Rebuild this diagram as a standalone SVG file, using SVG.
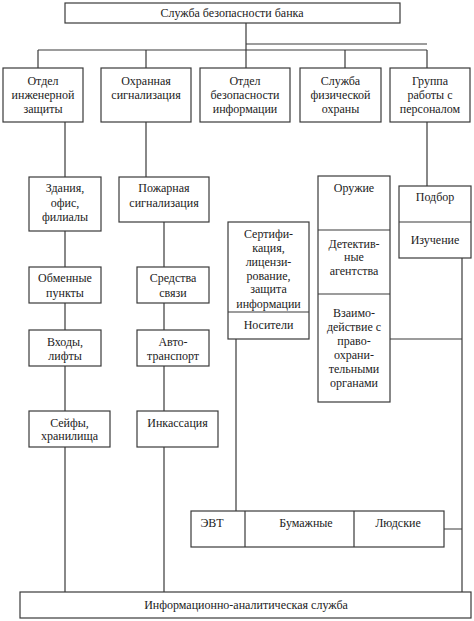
<svg xmlns="http://www.w3.org/2000/svg" width="474" height="621" viewBox="0 0 474 621" font-family="'Liberation Serif', 'DejaVu Serif', serif">
<style>
.b{fill:#fff;stroke:#3a3a3a;stroke-width:1.2}
.c{fill:none;stroke:#3a3a3a;stroke-width:1.2}
text{font-family:'Liberation Serif','DejaVu Serif',serif;font-size:12px;fill:#222;text-anchor:middle}
</style>
<rect width="474" height="621" fill="#fff"/>
<g id="connectors" class="c">
<path d="M246 23V50M246 44H427M38 50H427M38 50V68M146 50V68M246 50V68M345 50V68M427 50V68"/>
<path d="M65 122V177M65 231V267M65 303V330M65 366V411M65 447V592"/>
<path d="M146 122V177M164 222V267M164 303V330M164 366V411M164 447V592"/>
<path d="M427 122V186M462 258V592M390 339H462M444 529H462M236 339V511"/>
</g>
<g id="root"><rect class="b" x="65" y="3" width="335" height="20"/><text x="232" y="17">Служба безопасности банка</text></g>
<g id="n1"><rect class="b" x="3" y="68" width="80" height="54"/><text x="43" y="85">Отдел</text><text x="43" y="99">инженерной</text><text x="43" y="113">защиты</text></g>
<g id="n2"><rect class="b" x="101" y="68" width="90" height="54"/><text x="146" y="85">Охранная</text><text x="146" y="99">сигнализация</text></g>
<g id="n3"><rect class="b" x="200" y="68" width="90" height="54"/><text x="245" y="85">Отдел</text><text x="245" y="99">безопасности</text><text x="245" y="113">информации</text></g>
<g id="n4"><rect class="b" x="300" y="68" width="81" height="54"/><text x="340.5" y="85">Служба</text><text x="340.5" y="99">физической</text><text x="340.5" y="113">охраны</text></g>
<g id="n5"><rect class="b" x="390" y="68" width="80" height="54"/><text x="430" y="85">Группа</text><text x="430" y="99">работы с</text><text x="430" y="113">персоналом</text></g>
<g id="zdaniya"><rect class="b" x="29" y="177" width="72" height="54"/><text x="65" y="192">Здания,</text><text x="65" y="207">офис,</text><text x="65" y="221">филиалы</text></g>
<g id="obmen"><rect class="b" x="29" y="267" width="72" height="36"/><text x="65" y="282">Обменные</text><text x="65" y="297">пункты</text></g>
<g id="vhody"><rect class="b" x="29" y="330" width="72" height="36"/><text x="65" y="346">Входы,</text><text x="65" y="360">лифты</text></g>
<g id="seify"><rect class="b" x="29" y="411" width="81" height="36"/><text x="69.5" y="427">Сейфы,</text><text x="69.5" y="440">хранилища</text></g>
<g id="pozhar"><rect class="b" x="119" y="177" width="90" height="45"/><text x="164" y="192">Пожарная</text><text x="164" y="207">сигнализация</text></g>
<g id="svyaz"><rect class="b" x="137" y="267" width="72" height="36"/><text x="173" y="282">Средства</text><text x="173" y="297">связи</text></g>
<g id="avto"><rect class="b" x="137" y="330" width="72" height="36"/><text x="173" y="346">Авто-</text><text x="173" y="360">транспорт</text></g>
<g id="inkass"><rect class="b" x="137" y="411" width="81" height="36"/><text x="177.5" y="427">Инкассация</text></g>
<g id="sert"><rect class="b" x="228" y="222" width="81" height="117"/><path class="c" d="M228 312H309"/><text x="268.5" y="238">Сертифи-</text><text x="268.5" y="252">кация,</text><text x="268.5" y="266">лицензи-</text><text x="268.5" y="280">рование,</text><text x="268.5" y="293">защита</text><text x="268.5" y="308">информации</text><text x="268.5" y="329">Носители</text></g>
<g id="oruzhie"><rect class="b" x="318" y="176" width="72" height="226"/><path class="c" d="M318 230H390M318 294H390"/><text x="354" y="192">Оружие</text><text x="354" y="248">Детектив-</text><text x="354" y="261">ные</text><text x="354" y="275">агентства</text><text x="354" y="317">Взаимо-</text><text x="354" y="331">действие с</text><text x="354" y="345">право-</text><text x="354" y="359">охрани-</text><text x="354" y="373">тельными</text><text x="354" y="387">органами</text></g>
<g id="podbor"><rect class="b" x="399" y="186" width="72" height="72"/><path class="c" d="M399 222H471"/><text x="435" y="201">Подбор</text><text x="435" y="244">Изучение</text></g>
<g id="nositeli-types"><rect class="b" x="191" y="511" width="253" height="36"/><path class="c" d="M245 511V547M354 511V547"/><text x="212" y="527">ЭВТ</text><text x="306" y="527">Бумажные</text><text x="398" y="527">Людские</text></g>
<g id="iac"><rect class="b" x="20" y="592" width="451" height="26"/><text x="246" y="609">Информационно-аналитическая служба</text></g>
</svg>
